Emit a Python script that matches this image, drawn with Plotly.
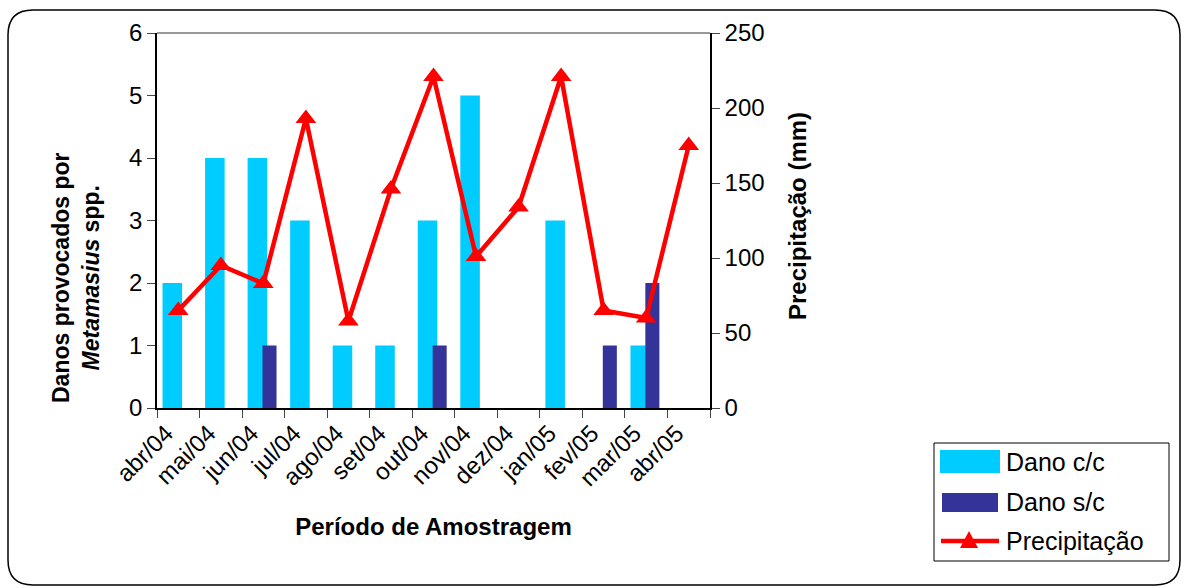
import plotly.graph_objects as go

months = ["abr/04", "mai/04", "jun/04", "jul/04", "ago/04", "set/04", "out/04",
          "nov/04", "dez/04", "jan/05", "fev/05", "mar/05", "abr/05"]
dano_cc = [2, 4, 4, 3, 1, 1, 3, 5, 0, 3, 0, 1, 0]
dano_sc = [0, 0, 1, 0, 0, 0, 1, 0, 0, 0, 1, 2, 0]
precip = [65, 95, 83, 193, 58, 146, 221, 101, 134, 221, 65, 60, 175]

series_names = ["Dano c/c", "Dano s/c", "Precipitação"]
C_CC, C_SC, C_PR = "#00CCFF", "#333399", "#FF0000"

W, H = 1185, 588
ML, MR, MT, MB = 157, 475, 33, 180
PW, PH = W - ML - MR, H - MT - MB

def px_x(p):
    return (p - ML) / PW

def px_y(p):
    return (H - MB - p) / PH

FONT = "Liberation Sans, Arial, sans-serif"

fig = go.Figure()
fig.add_trace(go.Bar(x=months, y=dano_cc, name=series_names[0], marker_color=C_CC,
                     marker_line_width=0, offset=-0.37, width=0.46, yaxis="y",
                     showlegend=False))
fig.add_trace(go.Bar(x=months, y=dano_sc, name=series_names[1], marker_color=C_SC,
                     marker_line_width=0, offset=-0.02, width=0.33, yaxis="y",
                     showlegend=False))
fig.add_trace(go.Scatter(x=months, y=precip, name=series_names[2], mode="lines+markers",
                         line=dict(color=C_PR, width=4.5),
                         marker=dict(symbol="triangle-up", size=18, color=C_PR),
                         yaxis="y2", showlegend=False))

# outer rounded frame
x0, x1 = px_x(8), px_x(1180)
y0, y1 = px_y(585), px_y(10)
rx = 25 / PW
ry = 25 / PH
path = (f"M {x0+rx},{y1} L {x1-rx},{y1} Q {x1},{y1} {x1},{y1-ry} "
        f"L {x1},{y0+ry} Q {x1},{y0} {x1-rx},{y0} L {x0+rx},{y0} "
        f"Q {x0},{y0} {x0},{y0+ry} L {x0},{y1-ry} Q {x0},{y1} {x0+rx},{y1} Z")

shapes = [
    dict(type="line", xref="paper", yref="paper", x0=0, x1=1, y0=1, y1=1,
         line=dict(color="#999999", width=2)),
    dict(type="path", xref="paper", yref="paper", path=path,
         line=dict(color="black", width=1.5)),
    # legend box
    dict(type="rect", xref="paper", yref="paper", x0=px_x(934), x1=px_x(1169),
         y0=px_y(561), y1=px_y(443), line=dict(color="black", width=1),
         fillcolor="white", layer="below"),
    dict(type="rect", xref="paper", yref="paper", x0=px_x(940), x1=px_x(1000),
         y0=px_y(473), y1=px_y(450), line=dict(width=0), fillcolor=C_CC),
    dict(type="rect", xref="paper", yref="paper", x0=px_x(942), x1=px_x(998),
         y0=px_y(512), y1=px_y(493), line=dict(width=0), fillcolor=C_SC),
    dict(type="line", xref="paper", yref="paper", x0=px_x(941), x1=px_x(999),
         y0=px_y(541), y1=px_y(541), line=dict(color=C_PR, width=4.5)),
    dict(type="path", xref="paper", yref="paper",
         path=f"M {px_x(960)},{px_y(548)} L {px_x(978)},{px_y(548)} L {px_x(969)},{px_y(531)} Z",
         line=dict(width=0), fillcolor=C_PR),
]

annotations = []
for name, yc in zip(series_names, [462, 502, 541]):
    annotations.append(dict(text=name, xref="paper", yref="paper", x=px_x(1004), y=px_y(yc),
                            xanchor="left", yanchor="middle", showarrow=False,
                            font=dict(size=25, family=FONT, color="black")))
# axis titles
annotations.append(dict(text="<b>Danos provocados por<br><i>Metamasius</i> spp.</b>",
                        xref="paper", yref="paper", x=px_x(76), y=px_y(278),
                        xanchor="center", yanchor="middle", textangle=-90, showarrow=False,
                        font=dict(size=23, family=FONT, color="black")))
annotations.append(dict(text="<b>Precipitação (mm)</b>",
                        xref="paper", yref="paper", x=px_x(797), y=px_y(216),
                        xanchor="center", yanchor="middle", textangle=-90, showarrow=False,
                        font=dict(size=24, family=FONT, color="black")))

fig.update_layout(
    width=W, height=H,
    margin=dict(l=ML, r=MR, t=MT, b=MB),
    paper_bgcolor="white", plot_bgcolor="white",
    font=dict(family=FONT, size=22, color="black"),
    barmode="overlay",
    showlegend=False,
    xaxis=dict(type="category", range=[-0.5, 12.5], tickson="boundaries", ticks="outside",
               ticklen=8, tickangle=-45, ticklabelshift=-12, showline=True,
               linecolor="black", linewidth=1.5, showgrid=False, tickfont=dict(size=24),
               title=dict(text="<b>Período de Amostragem</b>", font=dict(size=24), standoff=28)),
    yaxis=dict(range=[0, 6], dtick=1, ticks="outside", ticklen=8, showline=True,
               linecolor="black", linewidth=1.5, showgrid=False, zeroline=False,
               tickfont=dict(size=24)),
    yaxis2=dict(range=[0, 250], dtick=50, ticks="outside", ticklen=8, showline=True,
                linecolor="black", linewidth=1.5, showgrid=False, zeroline=False,
                overlaying="y", side="right", tickfont=dict(size=24)),
    shapes=shapes,
    annotations=annotations,
)

fig.write_html("out.html")
